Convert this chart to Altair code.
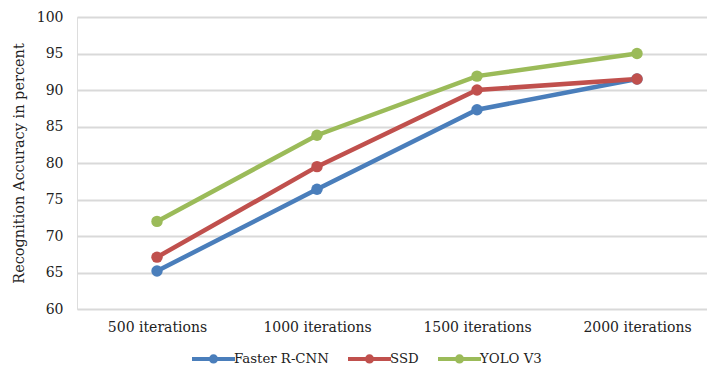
import altair as alt
import pandas as pd

categories = ["500 iterations", "1000 iterations", "1500 iterations", "2000 iterations"]
series_names = ["Faster R-CNN", "SSD", "YOLO V3"]
faster_rcnn = [65.2, 76.4, 87.3, 91.5]
ssd = [67.1, 79.5, 90.0, 91.5]
yolo_v3 = [72.0, 83.8, 91.9, 95.0]
colors = ["#4A7EBB", "#C0504D", "#9BBB59"]

rows = []
for name, vals in zip(series_names, [faster_rcnn, ssd, yolo_v3]):
    for i, (c, v) in enumerate(zip(categories, vals)):
        rows.append({"idx": i, "Iterations": c, "Model": name, "Accuracy": v})
df = pd.DataFrame(rows)

FONT = "DejaVu Serif"
label_expr = "[" + ",".join("'%s'" % c for c in categories) + "][datum.value]"

legend_symbol = "M-1.23,0 L1.23,0 M-0.15,0 A0.15,0.15 0 1,1 0.15,0 A0.15,0.15 0 1,1 -0.15,0"

chart = alt.Chart(df).mark_line(
    strokeWidth=4.5,
    point=alt.OverlayMarkDef(filled=True, size=130, opacity=1),
).encode(
    x=alt.X("idx:Q",
            scale=alt.Scale(domain=[-0.5, 3.4375], nice=False, zero=False),
            axis=alt.Axis(title=None, values=[0, 1, 2, 3], labelExpr=label_expr,
                          labelAngle=0, ticks=False, domain=False, grid=False,
                          labelPadding=11, labelFontSize=14, labelFont=FONT,
                          labelColor="#222222", labelFlush=False, labelOverlap=False)),
    y=alt.Y("Accuracy:Q", scale=alt.Scale(domain=[60, 100], nice=False, zero=False),
            axis=alt.Axis(title="Recognition Accuracy in percent", values=list(range(60, 101, 5)),
                          ticks=False, domain=False, labelPadding=14, labelFontSize=14,
                          labelFont=FONT, labelColor="#222222", titleFont=FONT,
                          titleFontSize=14.5, titleFontWeight="normal", titleColor="#222222",
                          titlePadding=10, gridColor="#D9D9D9", gridWidth=2)),
    color=alt.Color("Model:N", sort=series_names,
                    scale=alt.Scale(domain=series_names, range=colors),
                    legend=alt.Legend(title=None, orient="none", direction="horizontal",
                                      legendX=117, legendY=322,
                                      symbolType=legend_symbol, symbolSize=1225,
                                      symbolStrokeWidth=4, labelFont=FONT, labelFontSize=13.3,
                                      labelColor="#222222", labelOffset=1, columnPadding=10)),
).properties(
    width=630, height=292,
    autosize=alt.AutoSizeParams(type="none"),
    padding={"left": 77, "top": 17, "right": 0, "bottom": 66},
).configure_view(stroke=None).configure_axis(domain=False).configure(background="white")

chart.save("out.html", embed_options={"renderer": "svg", "actions": False})
